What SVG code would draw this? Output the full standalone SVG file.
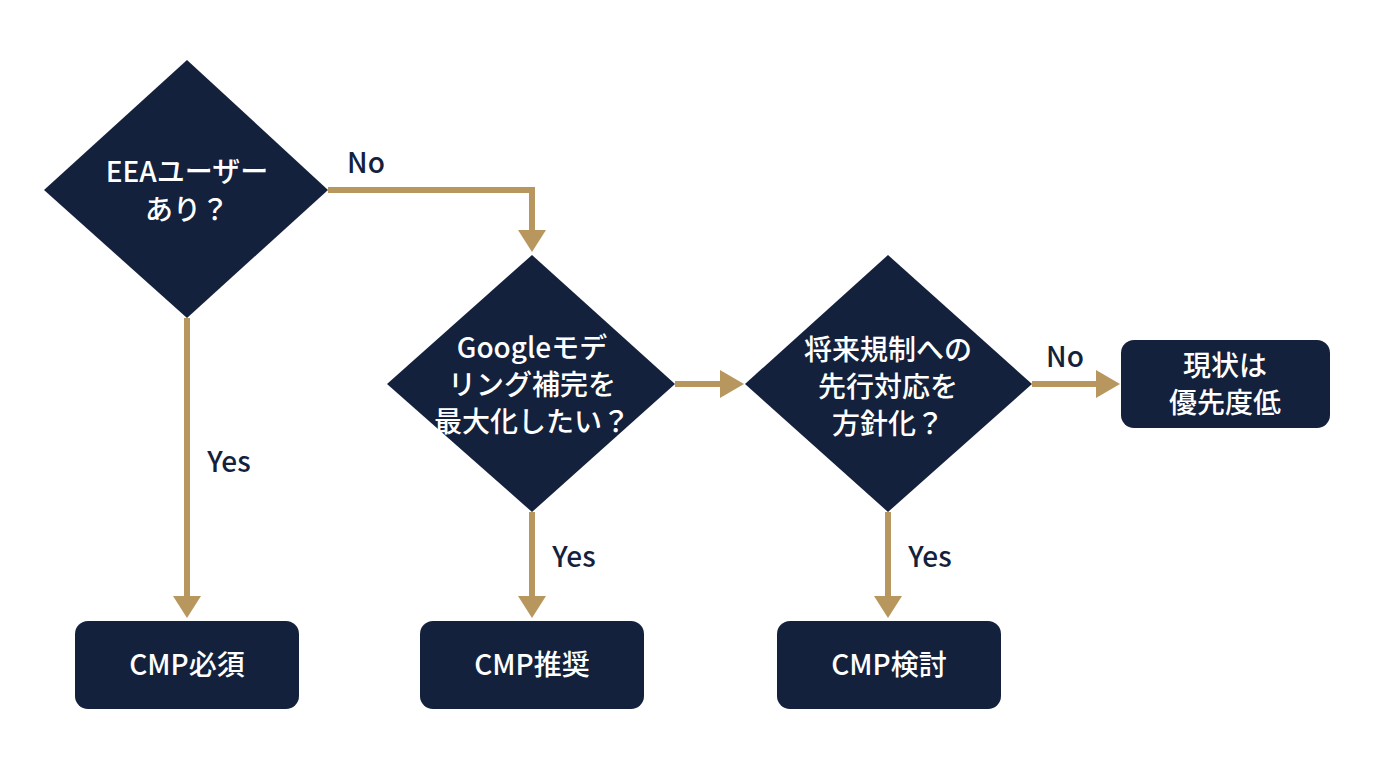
<svg xmlns="http://www.w3.org/2000/svg" width="1376" height="768" viewBox="0 0 1376 768">
<style>
.shape{fill:#13213c}
.t{fill:#ffffff;font-family:"Noto Sans CJK JP","Noto Sans",sans-serif;font-weight:500;font-size:28px;text-anchor:middle}
.lbl{fill:#13213c;font-family:"Noto Sans CJK JP","Noto Sans",sans-serif;font-weight:500;font-size:28px;text-anchor:middle}
.c{fill:none;stroke:#b8975e;stroke-width:6}
.ah{fill:#b8975e}
</style>
<rect width="1376" height="768" fill="#ffffff"/>
<g id="connectors">
<polyline class="c" points="328,190 532,190 532,232"/>
<polygon class="ah" points="518,230 546,230 532,252"/>
<line class="c" x1="187" y1="318" x2="187" y2="598"/>
<polygon class="ah" points="173,596 201,596 187,618"/>
<line class="c" x1="532" y1="512" x2="532" y2="598"/>
<polygon class="ah" points="518,596 546,596 532,618"/>
<line class="c" x1="888" y1="512" x2="888" y2="598"/>
<polygon class="ah" points="874,596 902,596 888,618"/>
<line class="c" x1="675" y1="384" x2="722" y2="384"/>
<polygon class="ah" points="720,370 720,398 744,384"/>
<line class="c" x1="1032" y1="384" x2="1098" y2="384"/>
<polygon class="ah" points="1096,370 1096,398 1120,384"/>
<text class="lbl" x="366" y="173">No</text>
<text class="lbl" x="229" y="472">Yes</text>
<text class="lbl" x="574" y="567">Yes</text>
<text class="lbl" x="930" y="567">Yes</text>
<text class="lbl" x="1065" y="367">No</text>
</g>
<g id="d1">
<polygon class="shape" points="187,60 328,190 187,318 44,190"/>
<text class="t" x="187" y="182">EEAユーザー</text>
<text class="t" x="187" y="220">あり？</text>
</g>
<g id="d2">
<polygon class="shape" points="532,255 675,384 532,512 387,384"/>
<text class="t" x="532" y="358">Googleモデ</text>
<text class="t" x="532" y="395">リング補完を</text>
<text class="t" x="532" y="432">最大化したい？</text>
</g>
<g id="d3">
<polygon class="shape" points="888,255 1032,384 888,512 745,384"/>
<text class="t" x="888" y="360">将来規制への</text>
<text class="t" x="888" y="397">先行対応を</text>
<text class="t" x="888" y="434">方針化？</text>
</g>
<g id="b4">
<rect class="shape" x="1121" y="340" width="209" height="88" rx="13"/>
<text class="t" x="1225" y="376">現状は</text>
<text class="t" x="1225" y="413">優先度低</text>
</g>
<g id="b1">
<rect class="shape" x="75" y="621" width="224" height="88" rx="13"/>
<text class="t" x="187" y="675">CMP必須</text>
</g>
<g id="b2">
<rect class="shape" x="420" y="621" width="224" height="88" rx="13"/>
<text class="t" x="532" y="675">CMP推奨</text>
</g>
<g id="b3">
<rect class="shape" x="777" y="621" width="224" height="88" rx="13"/>
<text class="t" x="889" y="675">CMP検討</text>
</g>
</svg>
